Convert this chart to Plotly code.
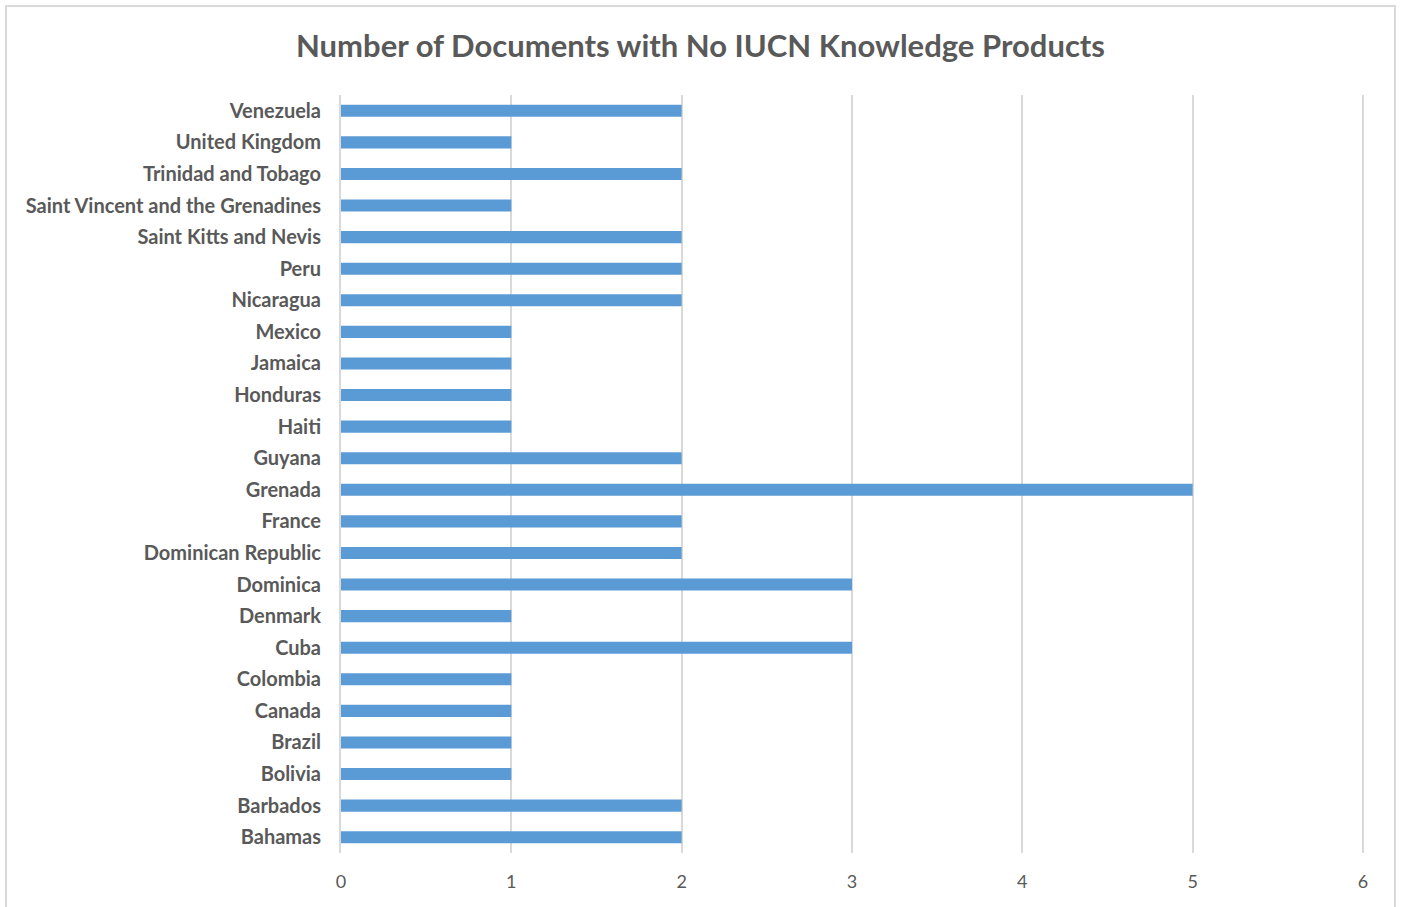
import plotly.graph_objects as go

countries = ["Bahamas", "Barbados", "Bolivia", "Brazil", "Canada", "Colombia", "Cuba",
             "Denmark", "Dominica", "Dominican Republic", "France", "Grenada", "Guyana",
             "Haiti", "Honduras", "Jamaica", "Mexico", "Nicaragua", "Peru",
             "Saint Kitts and Nevis", "Saint Vincent and the Grenadines",
             "Trinidad and Tobago", "United Kingdom", "Venezuela"]
counts = [2, 2, 1, 1, 1, 1, 3, 1, 3, 2, 2, 5, 2, 1, 1, 1, 1, 2, 2, 2, 1, 2, 1, 2]
x_ticks = [0, 1, 2, 3, 4, 5, 6]

W, H = 1401, 907
L, R, T, B = 341, 1364, 95, 853

fig = go.Figure(go.Bar(
    y=countries, x=counts, orientation="h",
    marker=dict(color="#5B9BD5", line=dict(width=0)),
    width=0.38,
))

font_family = "Lato, Open Sans, sans-serif"
fig.update_layout(
    width=W, height=H,
    margin=dict(l=L, r=W - R, t=T, b=H - B, pad=0),
    paper_bgcolor="white", plot_bgcolor="white",
    title=dict(text="<b>Number of Documents with No IUCN Knowledge Products</b>",
               x=0.5, xanchor="center", y=1 - 46 / H, yanchor="middle",
               font=dict(family=font_family, size=31, color="#595959")),
    showlegend=False,
    bargap=0.6,
)
fig.update_xaxes(
    range=[0, 6.006], tickvals=x_ticks, showgrid=True, gridcolor="#D9D9D9", gridwidth=2,
    zeroline=False, showline=False,
    ticks="outside", ticklen=12, tickcolor="rgba(0,0,0,0)",
    tickfont=dict(family=font_family, size=18, color="#595959"),
)
fig.update_yaxes(
    categoryorder="array", categoryarray=countries,
    range=[-0.5, len(countries) - 0.5],
    showgrid=False, zeroline=False, showline=True, linecolor="#D9D9D9", linewidth=2,
    ticks="outside", ticklen=14, tickcolor="rgba(0,0,0,0)",
    tickfont=dict(family=font_family, size=20, color="#595959"),
)
fig.update_yaxes(tickprefix="<b>", ticksuffix="</b>")

# outer chart border
fig.add_shape(type="rect", xref="paper", yref="paper",
              x0=(6 - L) / (R - L), x1=(1395 - L) / (R - L),
              y0=(B - 915) / (B - T), y1=(B - 6) / (B - T),
              line=dict(color="#D9D9D9", width=2), fillcolor="rgba(0,0,0,0)", layer="below")

fig.write_html("out.html", config={"displayModeBar": False},
               post_script="document.body.style.margin='0';")
